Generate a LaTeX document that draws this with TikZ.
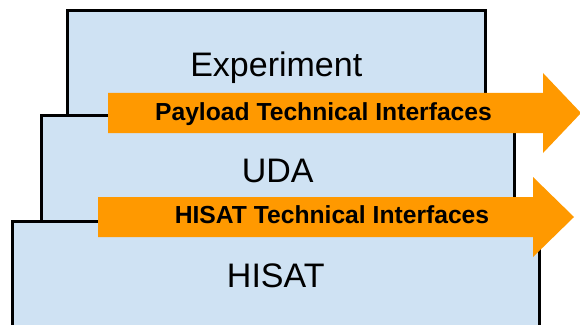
\documentclass[tikz,border=0pt]{standalone}
\usepackage{fontspec}
\setmainfont{Liberation Sans}
\definecolor{layerblue}{HTML}{CFE2F3}
\definecolor{ifaceorange}{HTML}{FF9900}
\tikzset{
  layer/.style={draw=black, line width=2.25pt, fill=layerblue},
  layerlabel/.style={anchor=base, font=\fontsize{25.5}{30}\selectfont},
  iface/.style={fill=ifaceorange},
  ifacelabel/.style={anchor=base, font=\bfseries\fontsize{18.5}{22}\selectfont},
}
% left, top, right, name, text, baseline
\newcommand{\layer}[6]{
  \draw [layer] (#1,#2) rectangle (#3,345);
  \node [layerlabel] (#4) at ({(#1+#3)/2}, #6) {#5};
}
% start, mid, head, tip, name, text, text x, baseline
\newcommand{\iface}[8]{
  \fill [iface] (#1,#2-20) -- (#3,#2-20) -- (#3,#2-40) -- (#4,#2)
    -- (#3,#2+40) -- (#3,#2+20) -- (#1,#2+20) -- cycle;
  \node [ifacelabel] (#5) at (#7, #8) {#6};
}
\begin{document}
\begin{tikzpicture}[x=0.75pt, y=-0.75pt]
  \useasboundingbox (0,0) rectangle (580,324);
  \layer{67.5}{11}{485}{experiment}{Experiment}{77}
  \layer{41}{115.5}{514.5}{uda}{UDA}{182}
  \layer{12}{221}{539.5}{hisat}{HISAT}{287}
  \iface{108}{113}{543}{581}{payload}{Payload Technical Interfaces}{323.5}{120}
  \iface{98}{217}{533}{574}{hisatif}{HISAT Technical Interfaces}{332}{223.5}
\end{tikzpicture}
\end{document}
